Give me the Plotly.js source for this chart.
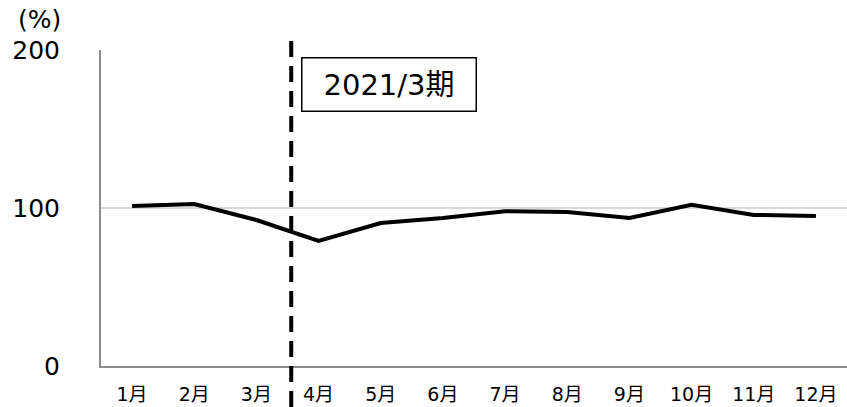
<!DOCTYPE html>
<html><head><meta charset="utf-8">
<script src="https://cdn.plot.ly/plotly-3.0.1.min.js"></script>
<style>body{margin:0;background:#fff}#c{width:847px;height:407px}</style>
</head><body><div id="c"></div>
<script>
const months = ['1月','2月','3月','4月','5月','6月','7月','8月','9月','10月','11月','12月'];
const values = [101.3, 102.5, 92.4, 79.2, 90.5, 93.7, 98.0, 97.5, 93.7, 102.0, 95.6, 95.0];
const yTicks = [0, 100, 200];
const periodLabel = '2021/3期';
const unitLabel = '(%)';
const font = 'DejaVu Sans, Verdana, Noto Sans CJK JP, sans-serif';

Plotly.newPlot('c', [{
  x: months, y: values, type: 'scatter', mode: 'lines',
  line: {color: '#000', width: 4}, hoverinfo: 'skip'
}], {
  width: 847, height: 407,
  margin: {l: 101, r: 0, t: 50, b: 41},
  paper_bgcolor: '#fff', plot_bgcolor: '#fff',
  showlegend: false,
  font: {family: font, color: '#000'},
  xaxis: {
    type: 'category', range: [-0.5, 11.5],
    showgrid: false, showline: true, linecolor: '#8c8c8c', linewidth: 2,
    ticks: '', tickfont: {size: 19, family: font}, ticklabelstandoff: 10,
    zeroline: false, fixedrange: true
  },
  yaxis: {
    range: [0, 200], tickvals: yTicks, ticktext: yTicks.map(String),
    showgrid: true, gridcolor: '#d9d9d9', gridwidth: 1.5,
    showline: true, linecolor: '#8c8c8c', linewidth: 2,
    zeroline: false, ticks: '', tickfont: {size: 25, family: font},
    ticklabelstandoff: 34, fixedrange: true
  },
  shapes: [{
    type: 'line', xref: 'x', yref: 'paper',
    x0: 2.56, x1: 2.56, y0: -0.13, y1: 1.05,
    line: {color: '#000', width: 4, dash: '16px,9px'}
  }],
  annotations: [{
    xref: 'paper', yref: 'paper', x: 0.268, y: 0.978,
    xanchor: 'left', yanchor: 'top', text: periodLabel, showarrow: false,
    font: {size: 29, family: font, color: '#000'},
    bgcolor: '#fff', bordercolor: '#000', borderwidth: 1.5, borderpad: 0,
    width: 173, height: 52
  }, {
    xref: 'paper', yref: 'paper', x: -0.082, y: 1.095,
    xanchor: 'center', yanchor: 'middle', text: unitLabel, showarrow: false,
    font: {size: 25, family: font, color: '#000'}
  }]
}, {displayModeBar: false, staticPlot: true});
</script></body></html>
